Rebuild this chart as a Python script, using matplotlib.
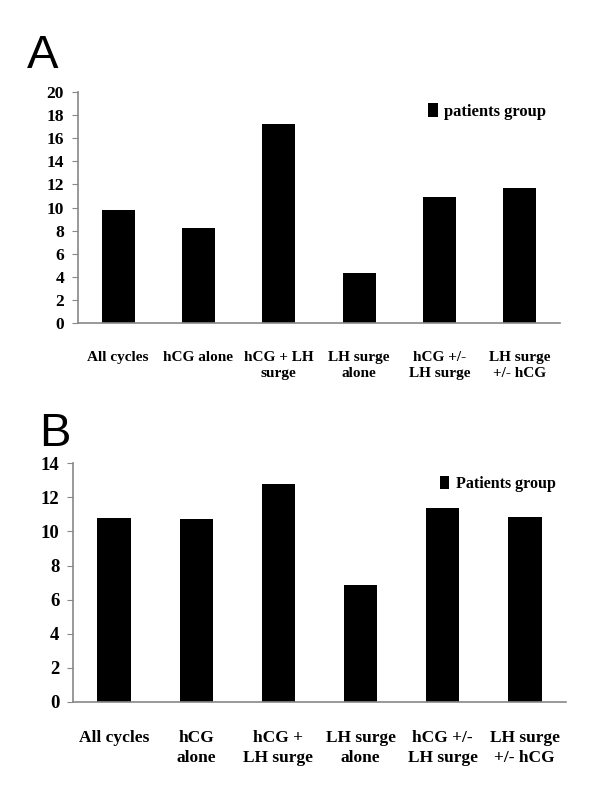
import numpy as np
import matplotlib.pyplot as plt

plt.rcParams['font.family'] = ['Liberation Serif', 'DejaVu Serif']
plt.rcParams['font.weight'] = 'bold'

# panel A
cats_a = ["All cycles", "hCG alone", "hCG + LH\nsurge", "LH surge\nalone",
          "hCG +/-\nLH surge", "LH surge\n+/- hCG"]
vals_a = [9.75, 8.25, 17.2, 4.33, 10.94, 11.72]
ticks_a = [0, 2, 4, 6, 8, 10, 12, 14, 16, 18, 20]

# panel B
cats_b = ["All cycles", "hCG\nalone", "hCG +\nLH surge", "LH surge\nalone",
          "hCG +/-\nLH surge", "LH surge\n+/- hCG"]
vals_b = [10.79, 10.75, 12.79, 6.87, 11.40, 10.83]
ticks_b = [0, 2, 4, 6, 8, 10, 12, 14]

fig = plt.figure(figsize=(6, 8), dpi=100)

def panel(rect, cats, vals, ticks, legname, tsize, lsize, legsize, legpos, letter, letpos, lettersize):
    ax = fig.add_axes(rect)
    x = np.arange(len(cats))
    ax.bar(x, vals, width=0.41, color='black', label=legname)
    ax.set_xlim(-0.5, len(cats) - 0.5)
    ax.set_ylim(0, ticks[-1])
    ax.set_yticks(ticks)
    ax.set_yticklabels([str(t) for t in ticks], fontsize=tsize, fontweight='bold')
    ax.set_xticks(x)
    ax.set_xticklabels(cats, fontsize=lsize, fontweight='bold', linespacing=1.35)
    ax.tick_params(axis='x', length=0, pad=20)
    ax.tick_params(axis='y', length=4, color='#888888', pad=6)
    for s in ['top', 'right']:
        ax.spines[s].set_visible(False)
    for s in ['left', 'bottom']:
        ax.spines[s].set_color('#888888')
        ax.spines[s].set_linewidth(1.2)
    ax.legend(loc='upper left', bbox_to_anchor=legpos, frameon=False,
              borderaxespad=0, borderpad=0,
              handlelength=0.6, handleheight=0.9, handletextpad=0.4,
              prop={'size': legsize, 'weight': 'bold'})
    fig.text(letpos[0], letpos[1], letter, fontsize=lettersize,
             family='Liberation Sans', fontweight='normal', va='baseline')
    return ax

panel([0.13, 0.596, 0.803, 0.289], cats_a, vals_a, ticks_a, "patients group",
      12.5, 11, 12, (0.726, 0.952), "A", (0.045, 0.915), 34)
panel([0.122, 0.1225, 0.821, 0.2985], cats_b, vals_b, ticks_b, "Patients group",
      13.5, 12.5, 11.5, (0.744, 0.947), "B", (0.066, 0.4425), 34)

fig.savefig('out.png', dpi=100)
